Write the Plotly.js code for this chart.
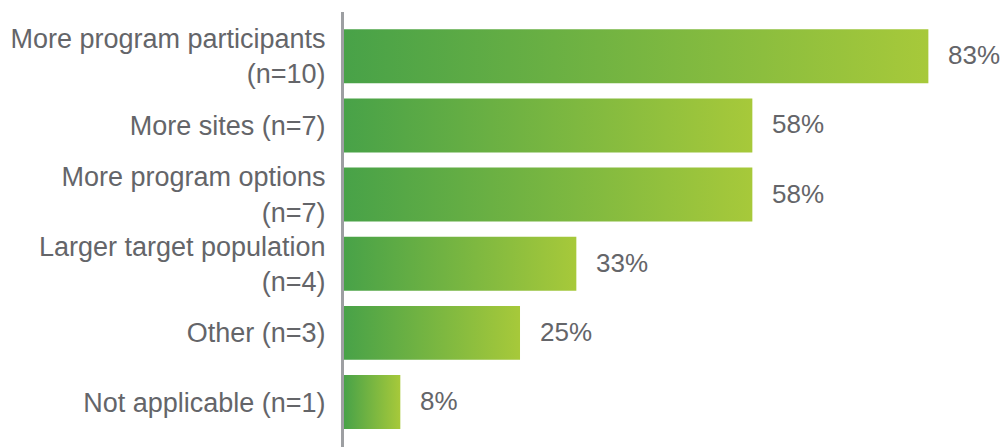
<!DOCTYPE html>
<html>
<head>
<meta charset="utf-8">
<script src="https://cdn.plot.ly/plotly-3.0.1.min.js"></script>
<style>html,body{margin:0;padding:0;background:#fff;}#chart{width:1003px;height:447px;}</style>
</head>
<body>
<div id="chart"></div>
<script>
const categories = [
  "More program participants<br>(n=10)",
  "More sites (n=7)",
  "More program options<br>(n=7)",
  "Larger target population<br>(n=4)",
  "Other (n=3)",
  "Not applicable (n=1)"
];
const values = [83, 58, 58, 33, 25, 8];
const valueLabels = ["83%", "58%", "58%", "33%", "25%", "8%"];

const half = 0.39;
const gradient = [[0, "#48a248"], [1, "#a7c93a"]];
const textColor = "#646569";

const traces = values.map((v, i) => ({
  type: "scatter",
  mode: "none",
  x: [0, v, v, 0, 0],
  y: [i - half, i - half, i + half, i + half, i - half],
  fill: "toself",
  fillgradient: { type: "horizontal", colorscale: gradient },
  hoverinfo: "skip",
  showlegend: false
}));

const annotations = values.map((v, i) => ({
  x: v, y: i, xref: "x", yref: "y",
  text: valueLabels[i],
  showarrow: false,
  xanchor: "left",
  yanchor: "middle",
  xshift: 18,
  yshift: 1,
  font: { family: "Liberation Sans, Arial, sans-serif", size: 26, color: textColor }
}));

const layout = {
  width: 1003, height: 447,
  margin: { l: 344, r: 0, t: 12, b: 0 },
  paper_bgcolor: "#ffffff",
  plot_bgcolor: "#ffffff",
  showlegend: false,
  xaxis: {
    range: [0, 93.6],
    showgrid: false, zeroline: false, showline: false,
    showticklabels: false, ticks: "", fixedrange: true
  },
  yaxis: {
    range: [5.65, -0.64],
    tickmode: "array",
    tickvals: categories.map((c, i) => i),
    ticktext: categories,
    showgrid: false, zeroline: false,
    showline: true, linecolor: "#9d9fa2", linewidth: 3,
    ticks: "",
    ticklabelstandoff: 10,
    tickfont: { family: "Liberation Sans, Arial, sans-serif", size: 27, color: textColor },
    fixedrange: true
  },
  annotations: annotations
};

Plotly.newPlot("chart", traces, layout, { displayModeBar: false, staticPlot: true });
</script>
</body>
</html>
